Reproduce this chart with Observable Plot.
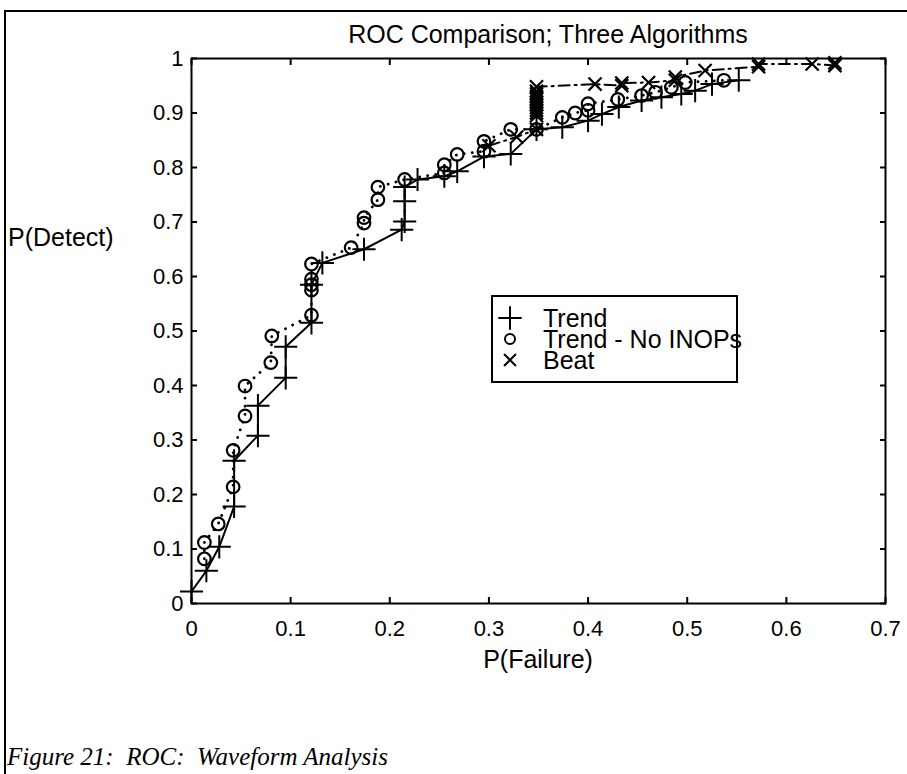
<!DOCTYPE html>
<html><head><meta charset="utf-8">
<script src="https://cdn.jsdelivr.net/npm/d3@7"></script>
<script src="https://cdn.jsdelivr.net/npm/@observablehq/plot@0.6"></script>
<style>
html,body{margin:0;padding:0;background:#fff;}
#page{position:relative;width:907px;height:774px;overflow:hidden;font-family:"Liberation Sans",Arial,sans-serif;color:#000;background:#fff;}
#page > svg{position:absolute;left:0;top:0;}
.lbl{position:absolute;white-space:pre;line-height:1;}
#frameTop{position:absolute;left:4px;top:10px;width:903px;height:0;border-top:2px solid #000;}
#frameLeft{position:absolute;left:4px;top:10px;width:0;height:764px;border-left:2px solid #000;}
#legend{position:absolute;left:491px;top:295px;width:243px;height:84px;border:2px solid #000;background:#fff;overflow:visible;}
</style></head><body><div id="page"></div>
<script>
// ---- data ----
const titleText = "ROC Comparison; Three Algorithms";
const xLabel = "P(Failure)";
const yLabel = "P(Detect)";
const captionText = "Figure 21:  ROC:  Waveform Analysis";
const seriesNames = ["Trend", "Trend - No INOPs", "Beat"];

const xTicks = [0, 0.1, 0.2, 0.3, 0.4, 0.5, 0.6, 0.7];
const yTicks = [0, 0.1, 0.2, 0.3, 0.4, 0.5, 0.6, 0.7, 0.8, 0.9, 1];

const trendX = [0, 0.015, 0.028, 0.043, 0.043, 0.067, 0.067, 0.095, 0.095, 0.121, 0.121, 0.132, 0.174, 0.212, 0.215, 0.215, 0.215, 0.228, 0.255, 0.268, 0.295, 0.322, 0.348, 0.374, 0.400, 0.414, 0.431, 0.454, 0.474, 0.494, 0.508, 0.525, 0.552];
const trendY = [0.022, 0.060, 0.104, 0.178, 0.262, 0.308, 0.363, 0.414, 0.471, 0.515, 0.585, 0.625, 0.650, 0.686, 0.701, 0.738, 0.764, 0.778, 0.784, 0.793, 0.820, 0.825, 0.870, 0.874, 0.886, 0.898, 0.911, 0.923, 0.929, 0.935, 0.941, 0.953, 0.960];

const noInopX = [0.013, 0.013, 0.027, 0.042, 0.042, 0.054, 0.054, 0.080, 0.081, 0.121, 0.121, 0.121, 0.121, 0.121, 0.161, 0.174, 0.174, 0.188, 0.188, 0.215, 0.255, 0.255, 0.268, 0.295, 0.295, 0.322, 0.348, 0.374, 0.387, 0.400, 0.400, 0.430, 0.454, 0.468, 0.484, 0.498, 0.537];
const noInopY = [0.082, 0.112, 0.146, 0.214, 0.281, 0.344, 0.399, 0.442, 0.491, 0.529, 0.575, 0.585, 0.595, 0.623, 0.653, 0.698, 0.708, 0.741, 0.764, 0.778, 0.790, 0.805, 0.824, 0.830, 0.848, 0.870, 0.870, 0.892, 0.900, 0.905, 0.917, 0.925, 0.932, 0.938, 0.947, 0.956, 0.960];

const beatX = [0.300, 0.328, 0.348, 0.348, 0.348, 0.348, 0.348, 0.348, 0.348, 0.348, 0.348, 0.348, 0.348, 0.348, 0.407, 0.434, 0.434, 0.461, 0.488, 0.488, 0.518, 0.572, 0.572, 0.626, 0.649, 0.649];
const beatY = [0.840, 0.856, 0.870, 0.895, 0.900, 0.905, 0.910, 0.915, 0.920, 0.925, 0.930, 0.935, 0.940, 0.948, 0.953, 0.950, 0.955, 0.956, 0.960, 0.966, 0.978, 0.985, 0.990, 0.990, 0.987, 0.992];

// ---- build tables ----
const toRows = (xs, ys) => xs.map((x, i) => ({x, y: ys[i]}));
const trend = toRows(trendX, trendY);
const noInop = toRows(noInopX, noInopY);
const beat = toRows(beatX, beatY);

const fmt = d => String(+d.toFixed(1));
const ink = "#000";

const chart = Plot.plot({
  width: 907,
  height: 774,
  marginLeft: 191,
  marginRight: 22,
  marginTop: 58,
  marginBottom: 171,
  x: {domain: [0, 0.7]},
  y: {domain: [0, 1]},
  style: {fontFamily: '"Liberation Sans", Arial, sans-serif', fontSize: "22px", color: ink, background: "transparent", overflow: "visible"},
  marks: [
    Plot.line(trend, {x: "x", y: "y", stroke: ink, strokeWidth: 2}),
    Plot.line(noInop, {x: "x", y: "y", stroke: ink, strokeWidth: 2.8, strokeDasharray: "0.1,8", strokeLinecap: "round"}),
    Plot.line(beat, {x: "x", y: "y", stroke: ink, strokeWidth: 2, strokeDasharray: "11,5,2,5"}),
    Plot.dot(trend, {x: "x", y: "y", symbol: "plus", r: 7.5, stroke: ink, strokeWidth: 2, fill: "none"}),
    Plot.dot(noInop, {x: "x", y: "y", symbol: "circle", r: 6.3, stroke: ink, strokeWidth: 2.2, fill: "none"}),
    Plot.dot(beat, {x: "x", y: "y", symbol: "times", r: 6, stroke: ink, strokeWidth: 2.2, fill: "none"}),
    Plot.frame({stroke: ink, strokeWidth: 2}),
    Plot.axisX({anchor: "bottom", ticks: xTicks, tickSize: -6, tickPadding: 23, tickFormat: fmt, label: null, strokeWidth: 2, fontSize: 22}),
    Plot.axisX({anchor: "top", ticks: xTicks, tickSize: -6, tickFormat: () => "", label: null, strokeWidth: 2}),
    Plot.axisY({anchor: "left", ticks: yTicks, tickSize: -6, tickPadding: 14, tickFormat: fmt, label: null, strokeWidth: 2, fontSize: 22}),
    Plot.axisY({anchor: "right", ticks: yTicks, tickSize: -6, tickFormat: () => "", label: null, strokeWidth: 2})
  ]
});

const page = document.getElementById("page");
page.appendChild(chart);

function addLabel(text, css) {
  const d = document.createElement("div");
  d.className = "lbl";
  d.textContent = text;
  Object.assign(d.style, css);
  page.appendChild(d);
  return d;
}
const ft = document.createElement("div"); ft.id = "frameTop"; page.appendChild(ft);
const fl = document.createElement("div"); fl.id = "frameLeft"; page.appendChild(fl);

addLabel(titleText, {left: "548px", top: "34px", transform: "translate(-50%,-50%)", fontSize: "25px"});
addLabel(xLabel, {left: "538px", top: "659px", transform: "translate(-50%,-50%)", fontSize: "25px"});
addLabel(yLabel, {left: "8px", top: "237px", transform: "translate(0,-50%)", fontSize: "25px"});
addLabel(captionText, {left: "7px", top: "756px", transform: "translate(0,-50%)", fontSize: "25px", fontStyle: "italic", fontFamily: '"Liberation Serif", "Times New Roman", serif'});

// ---- legend ----
const legend = document.createElement("div");
legend.id = "legend";
page.appendChild(legend);
const ls = d3.select(legend).append("svg").attr("width", 270).attr("height", 90)
  .style("position", "absolute").style("left", "-2px").style("top", "-2px").style("overflow", "visible");
const symbols = [d3.symbolPlus, null, d3.symbolTimes];
seriesNames.forEach((name, i) => {
  const cy = 23 + i * 21;
  const g = ls.append("g").attr("transform", `translate(19,${cy})`);
  if (i === 1) g.append("circle").attr("r", 5).attr("fill", "none").attr("stroke", ink).attr("stroke-width", 2);
  else g.append("path").attr("d", d3.symbol(symbols[i], i === 0 ? 180 : 95)()).attr("fill", "none").attr("stroke", ink).attr("stroke-width", 2);
  ls.append("text").attr("x", 52).attr("y", cy).attr("dy", "0.35em")
    .style("font-family", '"Liberation Sans", Arial, sans-serif').style("font-size", "25px").text(name);
});
</script>
</body></html>
